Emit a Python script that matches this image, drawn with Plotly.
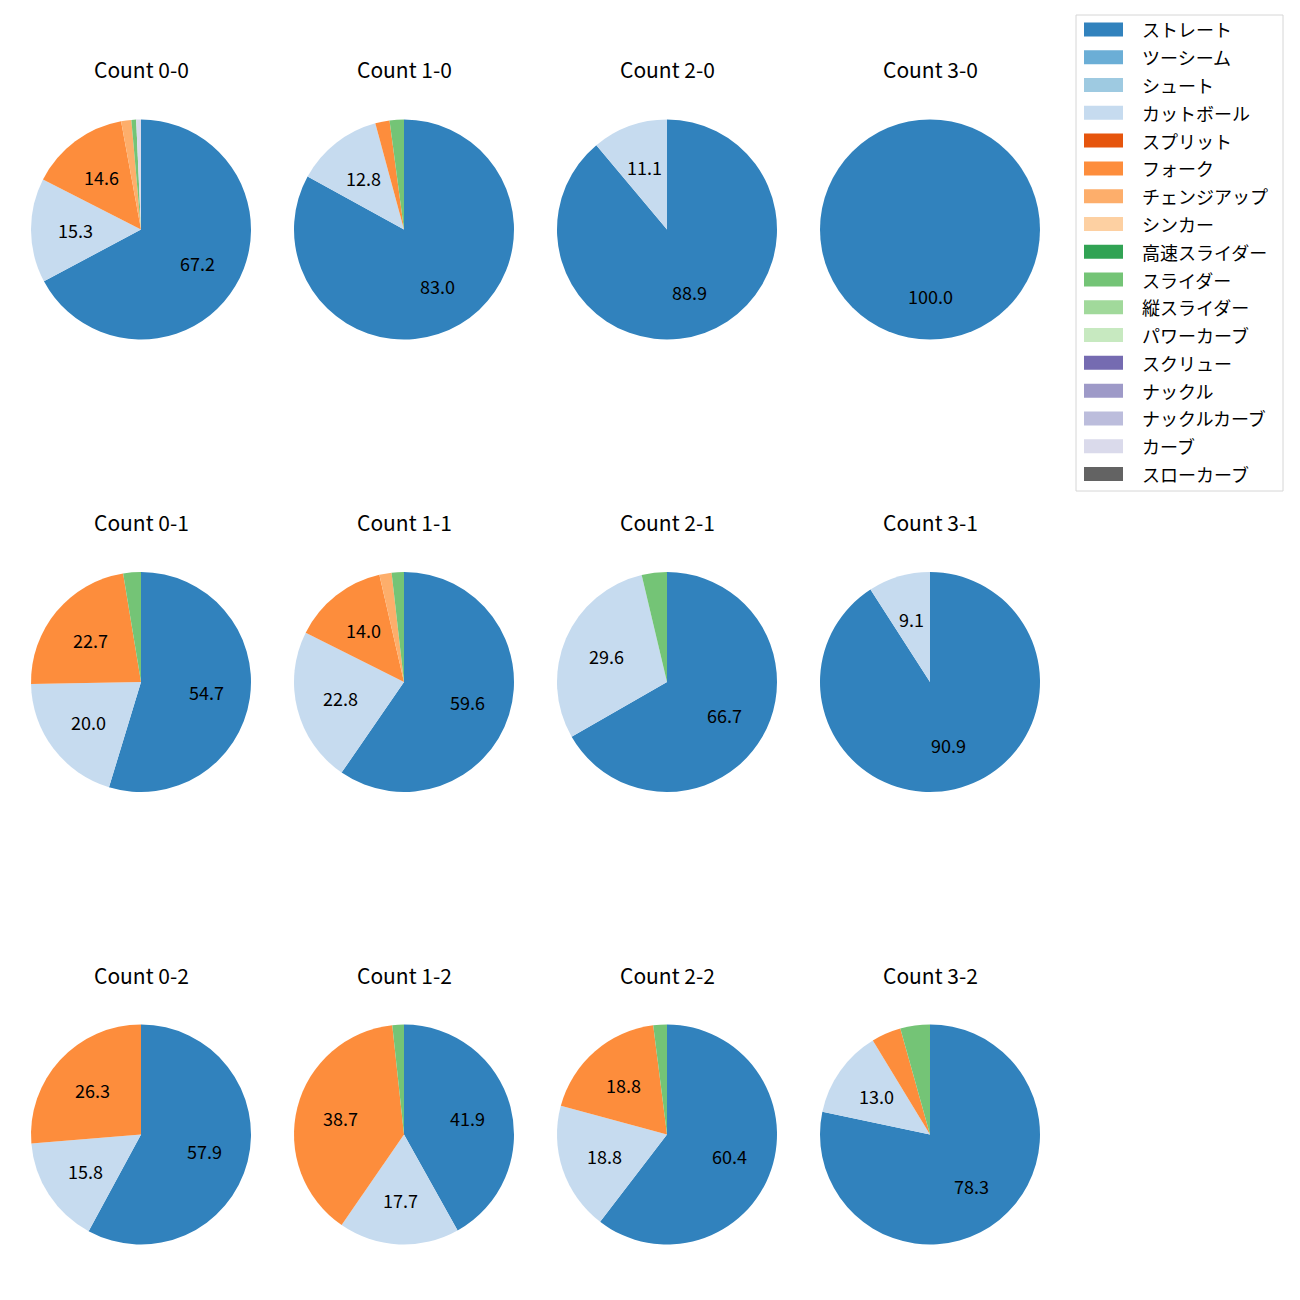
import math
import plotly.graph_objects as go

# ---------------- data ----------------
pitch_types = ["ストレート", "ツーシーム", "シュート", "カットボール", "スプリット", "フォーク",
               "チェンジアップ", "シンカー", "高速スライダー", "スライダー", "縦スライダー",
               "パワーカーブ", "スクリュー", "ナックル", "ナックルカーブ", "カーブ", "スローカーブ"]
pitch_colors = ["#3182bd", "#6baed6", "#9ecae1", "#c6dbef", "#e6550d", "#fd8d3c",
                "#fdae6b", "#fdd0a2", "#31a354", "#74c476", "#a1d99b", "#c7e9c0",
                "#756bb1", "#9e9ac8", "#bcbddc", "#dadaeb", "#636363"]

count_titles = ["Count 0-0", "Count 1-0", "Count 2-0", "Count 3-0",
                "Count 0-1", "Count 1-1", "Count 2-1", "Count 3-1",
                "Count 0-2", "Count 1-2", "Count 2-2", "Count 3-2"]

share_0_0 = [67.2, 0, 0, 15.3, 0, 14.6, 1.5, 0, 0, 0.7, 0, 0, 0, 0, 0, 0.7, 0]
share_1_0 = [83.0, 0, 0, 12.8, 0, 2.1, 0, 0, 0, 2.1, 0, 0, 0, 0, 0, 0, 0]
share_2_0 = [88.9, 0, 0, 11.1, 0, 0, 0, 0, 0, 0, 0, 0, 0, 0, 0, 0, 0]
share_3_0 = [100.0, 0, 0, 0, 0, 0, 0, 0, 0, 0, 0, 0, 0, 0, 0, 0, 0]
share_0_1 = [54.7, 0, 0, 20.0, 0, 22.7, 0, 0, 0, 2.6, 0, 0, 0, 0, 0, 0, 0]
share_1_1 = [59.6, 0, 0, 22.8, 0, 14.0, 1.8, 0, 0, 1.8, 0, 0, 0, 0, 0, 0, 0]
share_2_1 = [66.7, 0, 0, 29.6, 0, 0, 0, 0, 0, 3.7, 0, 0, 0, 0, 0, 0, 0]
share_3_1 = [90.9, 0, 0, 9.1, 0, 0, 0, 0, 0, 0, 0, 0, 0, 0, 0, 0, 0]
share_0_2 = [57.9, 0, 0, 15.8, 0, 26.3, 0, 0, 0, 0, 0, 0, 0, 0, 0, 0, 0]
share_1_2 = [41.9, 0, 0, 17.7, 0, 38.7, 0, 0, 0, 1.7, 0, 0, 0, 0, 0, 0, 0]
share_2_2 = [60.4, 0, 0, 18.8, 0, 18.8, 0, 0, 0, 2.0, 0, 0, 0, 0, 0, 0, 0]
share_3_2 = [78.3, 0, 0, 13.0, 0, 4.35, 0, 0, 0, 4.35, 0, 0, 0, 0, 0, 0, 0]

all_shares = [share_0_0, share_1_0, share_2_0, share_3_0,
              share_0_1, share_1_1, share_2_1, share_3_1,
              share_0_2, share_1_2, share_2_2, share_3_2]

# ---------------- layout ----------------
OFF = 8                      # page body margin of the browser
W, H = 1300 - OFF, 1300 - OFF
FONT = "Noto Sans CJK JP, Noto Sans, DejaVu Sans, sans-serif"
col_cx = [141, 404, 667, 930]
row_cy = [229.5, 682, 1134.5]
R = 110
LABEL_MIN = 5.0


def px(x):
    return (x - OFF) / W


def py(y):
    return 1 - (y - OFF) / H


fig = go.Figure()
annotations = []
shapes = []

for i, (title, vals) in enumerate(zip(count_titles, all_shares)):
    r, c = divmod(i, 4)
    cx, cy = col_cx[c], row_cy[r]
    fig.add_trace(go.Pie(
        labels=pitch_types, values=vals,
        marker=dict(colors=pitch_colors, line=dict(width=0)),
        sort=False, direction="clockwise", rotation=0,
        textinfo="none", hoverinfo="label+percent",
        showlegend=False,
        domain=dict(x=[px(cx - R), px(cx + R)], y=[py(cy + R), py(cy - R)]),
    ))
    annotations.append(dict(
        x=px(cx), y=py(cy - 160), xref="paper", yref="paper",
        text=title, showarrow=False, xanchor="center", yanchor="middle",
        font=dict(family=FONT, size=21, color="#000000")))
    total = sum(vals)
    cum = 0.0
    for v in vals:
        if v > 0:
            pct = 100 * v / total
            if pct >= LABEL_MIN:
                mid = (cum + v / 2) / total
                ang = math.radians(90 - 360 * mid)
                tx = cx + 0.6 * R * math.cos(ang)
                ty = cy - 0.6 * R * math.sin(ang)
                annotations.append(dict(
                    x=px(tx), y=py(ty), xref="paper", yref="paper",
                    text=f"{pct:.1f}", showarrow=False,
                    xanchor="center", yanchor="middle",
                    font=dict(family=FONT, size=18, color="#000000")))
        cum += v

# custom legend (matplotlib style)
LX0, LX1, LY0, LY1 = 1076, 1283, 15, 491
shapes.append(dict(type="rect", xref="paper", yref="paper",
                   x0=px(LX0), x1=px(LX1), y0=py(LY1), y1=py(LY0),
                   line=dict(color="#d6d6d6", width=1), fillcolor="white", layer="below"))
step = 27.78
for k, (name, col) in enumerate(zip(pitch_types, pitch_colors)):
    yc = 29.5 + k * step
    shapes.append(dict(type="rect", xref="paper", yref="paper",
                       x0=px(1084), x1=px(1123), y0=py(yc + 7), y1=py(yc - 7),
                       line=dict(width=0), fillcolor=col))
    annotations.append(dict(
        x=px(1140), y=py(yc), xref="paper", yref="paper",
        text=name, showarrow=False, xanchor="left", yanchor="middle",
        font=dict(family=FONT, size=18, color="#000000")))

fig.update_layout(
    width=W, height=H,
    margin=dict(l=0, r=0, t=0, b=0),
    paper_bgcolor="white", plot_bgcolor="white",
    annotations=annotations, shapes=shapes,
    font=dict(family=FONT),
)

fig.write_html("out.html")
